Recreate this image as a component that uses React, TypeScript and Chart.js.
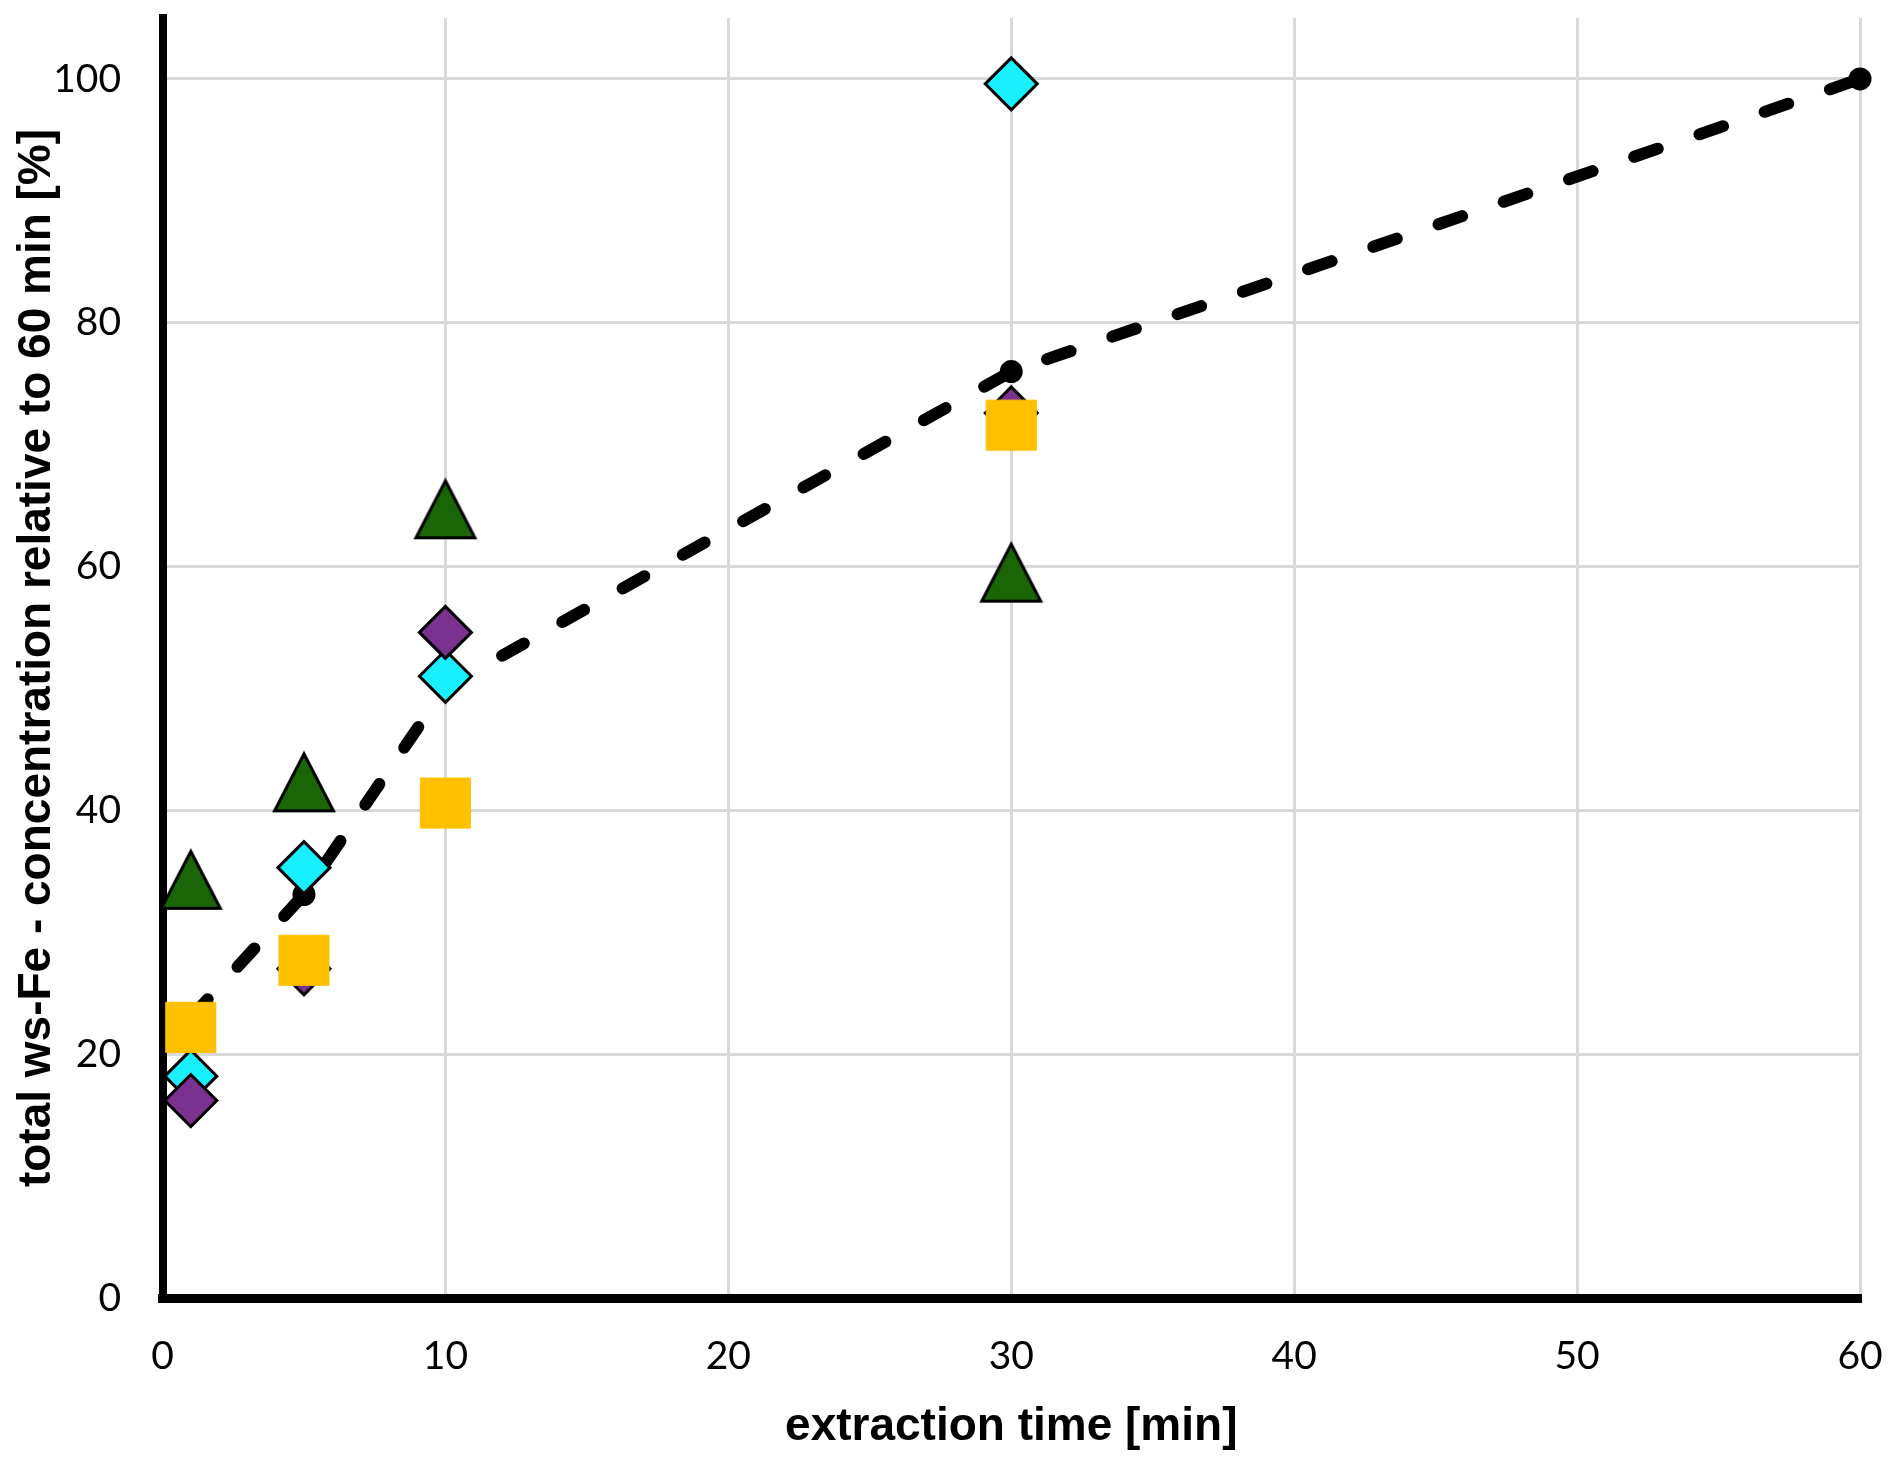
import React, { useEffect, useRef } from "react";
import { Chart, registerables } from "chart.js";

Chart.register(...registerables);

// ---- data ----
const sampleTimes = [1, 5, 10, 30];
const meanTimes = [1, 5, 10, 30, 60];
const meanValues = [23, 33.1, 50.1, 76, 100];
const cyanValues = [18.2, 35.3, 51.0, 99.6];
const purpleValues = [16.2, 27.0, 54.6, 72.6];
const yellowValues = [22.2, 27.7, 40.6, 71.6];
const greenValues = [34.3, 42.3, 64.7, 59.5];
const xTickValues = [0, 10, 20, 30, 40, 50, 60];
const yTickValues = [0, 20, 40, 60, 80, 100];

const xTitle = "extraction time [min]";
const yTitle = "total ws-Fe - concentration relative to 60 min [%]";

function pairs(xs: number[], ys: number[]) {
  return xs.map((x, i) => ({ x, y: ys[i] }));
}

function makeTriangle(fill: string): HTMLCanvasElement {
  const c = document.createElement("canvas");
  const S = 72;
  c.width = S;
  c.height = S;
  const ctx = c.getContext("2d")!;
  const cx = S / 2;
  const cy = S / 2;
  const hw = 29.5;
  const hh = 28.5;
  ctx.beginPath();
  ctx.moveTo(cx, cy - hh);
  ctx.lineTo(cx + hw, cy + hh);
  ctx.lineTo(cx - hw, cy + hh);
  ctx.closePath();
  ctx.fillStyle = fill;
  ctx.fill();
  ctx.lineWidth = 3;
  ctx.lineJoin = "miter";
  ctx.strokeStyle = "#000000";
  ctx.stroke();
  return c;
}

export default function App() {
  const ref = useRef<HTMLCanvasElement | null>(null);

  useEffect(() => {
    document.body.style.margin = "0";
    document.body.style.overflow = "hidden";
    const canvas = ref.current;
    if (!canvas) return;
    const tri = makeTriangle("#1A6606");

    const chart = new Chart(canvas, {
      type: "scatter",
      data: {
        datasets: [
          {
            label: "green",
            data: pairs(sampleTimes, greenValues),
            pointStyle: tri as any,
            pointRadius: 31,
            backgroundColor: "#1A6606",
            borderColor: "#000000",
            showLine: false,
            clip: false as any,
          },
          {
            label: "yellow",
            data: pairs(sampleTimes, yellowValues),
            pointStyle: "rect",
            pointRadius: 35.4,
            pointBackgroundColor: "#FFC000",
            pointBorderColor: "#FFC000",
            pointBorderWidth: 1,
            showLine: false,
            clip: false as any,
          },
          {
            label: "purple",
            data: pairs(sampleTimes, purpleValues),
            pointStyle: "rectRot",
            pointRadius: 26,
            pointBackgroundColor: "#7A3190",
            pointBorderColor: "#000000",
            pointBorderWidth: 3,
            showLine: false,
            clip: false as any,
          },
          {
            label: "cyan",
            data: pairs(sampleTimes, cyanValues),
            pointStyle: "rectRot",
            pointRadius: 26,
            pointBackgroundColor: "#19F0FF",
            pointBorderColor: "#000000",
            pointBorderWidth: 3,
            showLine: false,
            clip: false as any,
          },
          {
            label: "mean",
            data: pairs(meanTimes, meanValues),
            showLine: true,
            borderColor: "#000000",
            borderWidth: 12,
            borderDash: [25, 44],
            borderCapStyle: "round",
            borderJoinStyle: "round",
            pointStyle: "circle",
            pointRadius: 11.5,
            pointBackgroundColor: "#000000",
            pointBorderWidth: 0,
            tension: 0,
            clip: false as any,
          },
        ],
      },
      options: {
        animation: false,
        responsive: false,
        devicePixelRatio: 1,
        layout: { autoPadding: false, padding: { top: 18, right: 32, left: 0, bottom: 0 } },
        plugins: {
          legend: { display: false },
          tooltip: { enabled: false },
        },
        scales: {
          x: {
            type: "linear",
            min: 0,
            max: 60,
            afterBuildTicks: (s: any) => {
              s.ticks = xTickValues.map((v) => ({ value: v }));
            },
            afterFit: (s: any) => {
              s.height = 173;
              s.paddingLeft = 0;
              s.paddingRight = 0;
            },
            ticks: {
              includeBounds: false,
              padding: 34.6,
              color: "#000000",
              font: { family: "Lato", size: 39 },
              maxRotation: 0,
              autoSkip: false,
            },
            grid: { color: "#D9D9D9", lineWidth: 3, drawTicks: false },
            border: { display: true, color: "#000000", width: 9 },
            title: {
              display: true,
              text: xTitle,
              color: "#000000",
              font: { family: "Liberation Sans", size: 46, weight: "bold" },
              padding: { top: 0, bottom: 16.4 },
            },
          },
          y: {
            type: "linear",
            min: 0,
            max: 105,
            afterBuildTicks: (s: any) => {
              s.ticks = yTickValues.map((v) => ({ value: v }));
            },
            afterFit: (s: any) => {
              s.width = 162.5;
              s.paddingTop = 0;
              s.paddingBottom = 0;
            },
            ticks: {
              includeBounds: false,
              padding: 41.5,
              color: "#000000",
              font: { family: "Lato", size: 39 },
              autoSkip: false,
            },
            grid: { color: "#D9D9D9", lineWidth: 3, drawTicks: false },
            border: { display: true, color: "#000000", width: 8 },
            title: {
              display: true,
              text: yTitle,
              color: "#000000",
              font: { family: "Liberation Sans", size: 46, weight: "bold" },
              padding: { top: 9.5, bottom: 0 },
            },
          },
        },
      },
    });
    return () => chart.destroy();
  }, []);

  return (
    <div style={{ width: 1892, height: 1471, background: "#ffffff" }}>
      <canvas ref={ref} width={1892} height={1471} style={{ display: "block" }} />
    </div>
  );
}
